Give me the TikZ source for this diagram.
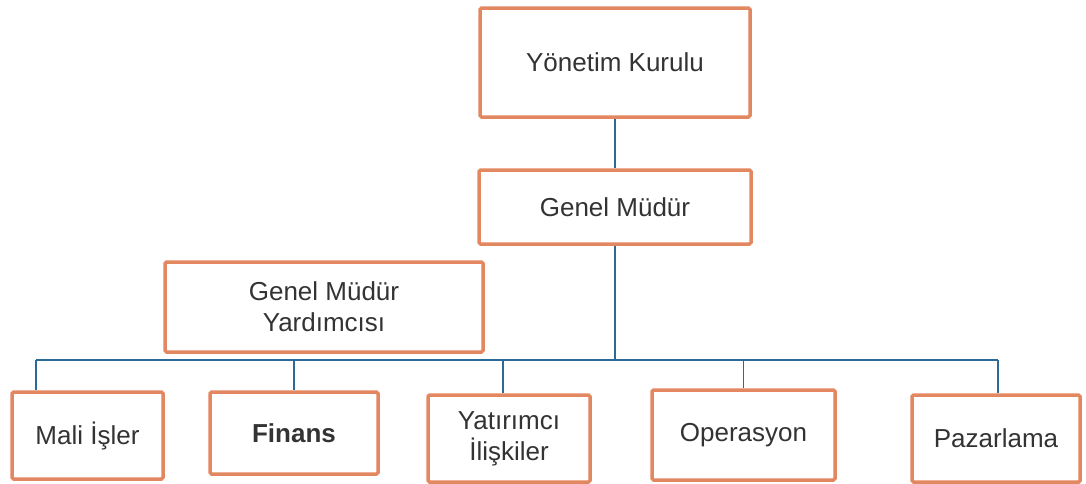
\documentclass[tikz,border=0pt]{standalone}
\usepackage{fontspec}
\setmainfont{Liberation Sans}
\definecolor{boxorange}{HTML}{E2875F}
\definecolor{linkblue}{HTML}{2B6A96}
\definecolor{txt}{HTML}{333333}
\begin{document}
\begin{tikzpicture}[x=1pt,y=-1pt,
  orgbox/.style={draw=boxorange,line width=3.5pt,fill=white,rounded corners=1.5pt,
    text=txt,font=\fontsize{26}{31}\selectfont,align=center,inner sep=2pt},
  conn/.style={draw=linkblue,line width=1.6pt}]
\useasboundingbox (0,0) rectangle (1086,483);
\node[orgbox,minimum width=270pt,minimum height=109pt] (yk) at (615,62.5) {Yönetim Kurulu};
\node[orgbox,minimum width=272pt,minimum height=74pt] (gm) at (615,207) {Genel Müdür};
\node[orgbox,minimum width=318pt,minimum height=90pt] (gmy) at (324,307) {Genel Müdür\\Yardımcısı};
\node[orgbox,minimum width=151pt,minimum height=87pt] (mali) at (87.5,435.5) {Mali İşler};
\node[orgbox,minimum width=168pt,minimum height=82pt,font=\fontsize{26}{31}\selectfont\bfseries] (finans) at (294,433) {Finans};
\node[orgbox,minimum width=162pt,minimum height=87pt] (yat) at (509,438.5) {Yatırımcı\\İlişkiler};
\node[orgbox,minimum width=183pt,minimum height=90pt] (ops) at (743.5,435) {Operasyon};
\node[orgbox,minimum width=168pt,minimum height=87pt] (paz) at (996,438.5) {Pazarlama};
\coordinate (bl) at (36,360);
\coordinate (br) at (998,360);
\coordinate (bus) at (615,360);
\draw[conn] (yk.south) -- (gm.north);
\draw[conn] (gm.south) -- (gm.south |- bus);
\draw[conn] (bl) -- (br);
\draw[conn] (bl) -- (bl |- mali.north);
\draw[conn] (finans.north |- bus) -- (finans.north);
\draw[conn] ([xshift=-6pt]yat.north |- bus) -- ([xshift=-6pt]yat.north);
\draw[conn] (ops.north |- bus) -- (ops.north);
\draw[conn] (br) -- (br |- paz.north);
\end{tikzpicture}
\end{document}
